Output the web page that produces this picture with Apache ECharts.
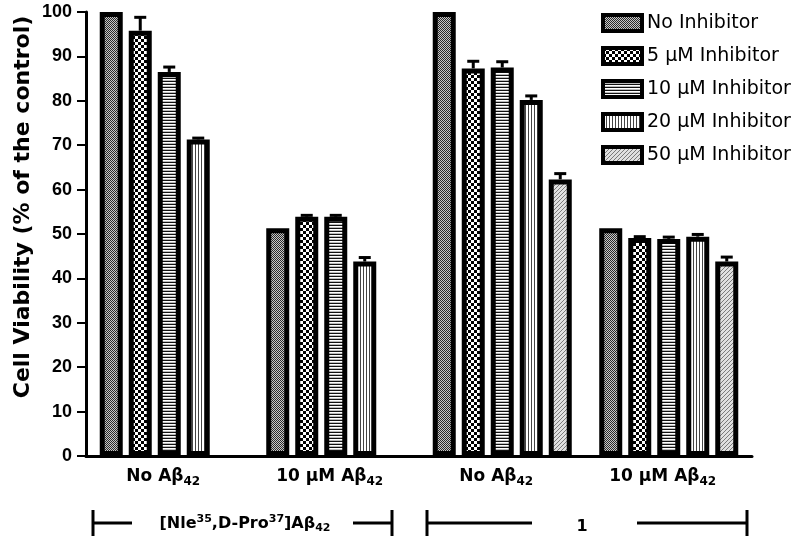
<!DOCTYPE html>
<html>
<head>
<meta charset="utf-8">
<script src="https://cdn.jsdelivr.net/npm/echarts@6/dist/echarts.min.js"></script>
<style>
  html, body { margin: 0; padding: 0; background: #fff; }
  #chart { width: 800px; height: 544px; }
</style>
</head>
<body>
<div id="chart"></div>
<script>
// groups on the x axis (rich-text labels)
const categories = ["No Aβ42", "10 μM Aβ42", "No Aβ42", "10 μM Aβ42"];
const seriesNames = ["No Inhibitor", "5 μM Inhibitor", "10 μM Inhibitor", "20 μM Inhibitor", "50 μM Inhibitor"];

// mean cell viability, % of control
const noInhibitor = [100, 51.3, 100, 51.3];
const inh5 = [95.8, 53.9, 87.3, 49.1];
const inh10 = [86.5, 53.9, 87.5, 48.9];
const inh20 = [71.3, 43.8, 80.2, 49.4];
const inh50 = [null, null, 62.3, 43.8];

// upper error bars
const err0 = [0, 0, 0, 0];
const err5 = [3.0, 0.3, 1.6, 0.3];
const err10 = [1.1, 0.3, 1.3, 0.4];
const err20 = [0.3, 0.9, 0.9, 0.5];
const err50 = [null, null, 1.3, 1.0];

const yTicks = { min: 0, max: 100, interval: 10 };

const values = [noInhibitor, inh5, inh10, inh20, inh50];
const errors = [err0, err5, err10, err20, err50];

const BAR_W = 23;
const BAR_STEP = 29;
const ARIAL = "Liberation Sans, Arial, sans-serif";
const WIDE = "DejaVu Sans, Verdana, sans-serif";

function makePattern(w, h, draw) {
  const c = document.createElement("canvas");
  c.width = w; c.height = h;
  const ctx = c.getContext("2d");
  draw(ctx);
  return { image: c, repeat: "repeat" };
}

const patterns = [
  makePattern(2, 2, (ctx) => {
    ctx.fillStyle = "#c8c8c8"; ctx.fillRect(0, 0, 2, 2);
    ctx.fillStyle = "#2a2a2a"; ctx.fillRect(0, 0, 1, 1); ctx.fillRect(1, 1, 1, 1);
  }),
  makePattern(6, 6, (ctx) => {
    ctx.fillStyle = "#fff"; ctx.fillRect(0, 0, 6, 6);
    ctx.fillStyle = "#000"; ctx.fillRect(0, 0, 3, 3); ctx.fillRect(3, 3, 3, 3);
  }),
  makePattern(1, 3, (ctx) => {
    ctx.fillStyle = "#fff"; ctx.fillRect(0, 0, 1, 3);
    ctx.fillStyle = "#111"; ctx.fillRect(0, 0, 1, 1);
    ctx.fillStyle = "#bbb"; ctx.fillRect(0, 2, 1, 1);
  }),
  makePattern(3, 1, (ctx) => {
    ctx.fillStyle = "#fff"; ctx.fillRect(0, 0, 3, 1);
    ctx.fillStyle = "#444"; ctx.fillRect(0, 0, 1, 1);
  }),
  makePattern(4, 4, (ctx) => {
    ctx.fillStyle = "#e0e0e0"; ctx.fillRect(0, 0, 4, 4);
    ctx.fillStyle = "#7a7a7a";
    for (let i = 0; i < 4; i++) ctx.fillRect(i, 3 - i, 1, 1);
  })
];

const chart = echarts.init(document.getElementById("chart"), null, { renderer: "canvas" });

const barSeries = seriesNames.map((name, s) => ({
  name,
  type: "bar",
  data: values[s],
  barWidth: BAR_W,
  barGap: ((BAR_STEP - BAR_W) / BAR_W * 100).toFixed(1) + "%",
  itemStyle: { color: patterns[s], borderColor: "#000", borderWidth: 5 },
  emphasis: { disabled: true },
  z: 2
}));

const errSeries = seriesNames.map((name, s) => ({
  type: "custom",
  z: 5,
  silent: true,
  data: values[s].map((v, i) => (v == null || !errors[s][i] ? null : [i, v, errors[s][i]])).filter(Boolean),
  encode: { x: 0, y: 1 },
  renderItem: (params, api) => {
    const off = (s - 2) * BAR_STEP;
    const x = api.coord([api.value(0), 0])[0] + off;
    const base = api.coord([api.value(0), api.value(1)])[1];
    const top = api.coord([api.value(0), api.value(1) + api.value(2)])[1];
    return {
      type: "group",
      children: [
        { type: "line", shape: { x1: x, y1: base, x2: x, y2: top }, style: { stroke: "#000", lineWidth: 3 } },
        { type: "line", shape: { x1: x - 6, y1: top, x2: x + 6, y2: top }, style: { stroke: "#000", lineWidth: 3 } }
      ]
    };
  }
}));

function labelRich(text) {
  // "Aβ42" -> subscript 42
  return text.replace(/Aβ42/, "Aβ{s|42}").replace(/^(.*?)\{/, "{b|$1}{");
}

const boldRich = (size, extra) => Object.assign({ fontSize: size, fontWeight: "bold", fontFamily: WIDE, fill: "#000", color: "#000" }, extra || {});

chart.setOption({
  animation: false,
  backgroundColor: "#fff",
  textStyle: { fontFamily: ARIAL },
  grid: { left: 86, right: 48, top: 12, bottom: 88, outerBoundsMode: "none", containLabel: false },
  legend: {
    orient: "vertical",
    left: 601,
    top: 13,
    padding: 0,
    itemWidth: 39,
    itemHeight: 16,
    itemGap: 13,
    icon: "rect",
    data: seriesNames,
    selectedMode: false,
    itemStyle: { borderColor: "#000", borderWidth: 4 },
    textStyle: { fontSize: 19, lineHeight: 20, color: "#000", fontFamily: WIDE }
  },
  xAxis: {
    type: "category",
    data: categories,
    axisLine: { lineStyle: { color: "#000", width: 3 } },
    axisTick: { alignWithLabel: true, length: 7, lineStyle: { color: "#000", width: 3 } },
    axisLabel: {
      margin: 10,
      color: "#000",
      padding: [0, 12, 0, 0],
      formatter: (v) => labelRich(v),
      rich: {
        b: boldRich(17),
        s: boldRich(12, { padding: [10, 0, 0, 0] })
      }
    },
    splitLine: { show: false }
  },
  yAxis: {
    type: "value",
    min: yTicks.min,
    max: yTicks.max,
    interval: yTicks.interval,
    axisLine: { show: true, lineStyle: { color: "#000", width: 3 } },
    axisTick: { show: true, length: 9, lineStyle: { color: "#000", width: 2 } },
    axisLabel: { margin: 14, fontSize: 18, fontWeight: "bold", color: "#000", fontFamily: ARIAL },
    splitLine: { show: false }
  },
  graphic: [
    {
      type: "text", x: 23, y: 207, rotation: Math.PI / 2,
      style: { text: "Cell Viability (% of the control)", align: "center", verticalAlign: "middle", fontSize: 22, fontWeight: "bold", fontFamily: WIDE, fill: "#000" }
    },
    { type: "line", shape: { x1: 93, y1: 510, x2: 93, y2: 536 }, style: { stroke: "#000", lineWidth: 3 } },
    { type: "line", shape: { x1: 93, y1: 523, x2: 132, y2: 523 }, style: { stroke: "#000", lineWidth: 3 } },
    {
      type: "text", x: 245, y: 524,
      style: {
        text: "{t|[Nle}{u|35}{t|,D-Pro}{u|37}{t|]Aβ}{d|42}",
        align: "center", verticalAlign: "middle",
        rich: {
          t: boldRich(16),
          u: boldRich(11, { padding: [0, 0, 9, 0] }),
          d: boldRich(11, { padding: [9, 0, 0, 0] })
        }
      }
    },
    { type: "line", shape: { x1: 353, y1: 523, x2: 392, y2: 523 }, style: { stroke: "#000", lineWidth: 3 } },
    { type: "line", shape: { x1: 392, y1: 510, x2: 392, y2: 536 }, style: { stroke: "#000", lineWidth: 3 } },

    { type: "line", shape: { x1: 427, y1: 510, x2: 427, y2: 536 }, style: { stroke: "#000", lineWidth: 3 } },
    { type: "line", shape: { x1: 427, y1: 523, x2: 532, y2: 523 }, style: { stroke: "#000", lineWidth: 3 } },
    {
      type: "text", x: 582, y: 527,
      style: { text: "1", align: "center", verticalAlign: "middle", fontSize: 16, fontWeight: "bold", fontFamily: WIDE, fill: "#000" }
    },
    { type: "line", shape: { x1: 637, y1: 523, x2: 747, y2: 523 }, style: { stroke: "#000", lineWidth: 3 } },
    { type: "line", shape: { x1: 747, y1: 510, x2: 747, y2: 536 }, style: { stroke: "#000", lineWidth: 3 } }
  ],
  series: [...barSeries, ...errSeries]
});
</script>
</body>
</html>
